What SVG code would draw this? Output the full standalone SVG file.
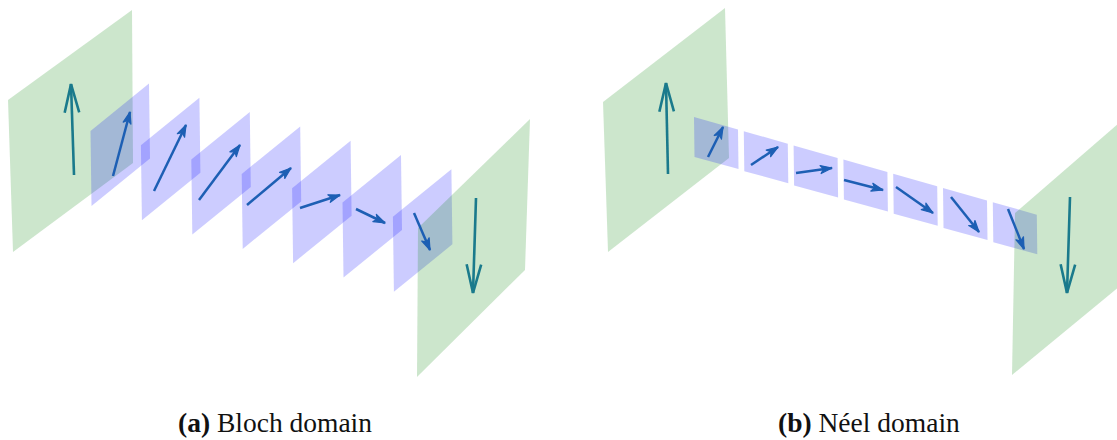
<svg xmlns="http://www.w3.org/2000/svg" width="1117" height="440" viewBox="0 0 1117 440">
  <style>
    .green { fill: #008000; fill-opacity: 0.2; }
    .blue { fill: #0000ff; fill-opacity: 0.2; }
    .spin-big { stroke: #1a7a8c; stroke-width: 2.6; fill: none; marker-end: url(#headBig); }
    .spin { stroke: #1d5fb4; stroke-width: 2.5; fill: none; marker-end: url(#headSmall); }
    .caption { font-family: "Liberation Serif", "DejaVu Serif", serif; font-size: 27.5px; fill: #111; }
    .caption .tag { font-weight: bold; }
  </style>
  <defs>
    <marker id="headBig" viewBox="-12 -4 13 8" refX="0" refY="0" markerWidth="13" markerHeight="8" markerUnits="strokeWidth" orient="auto" overflow="visible">
      <path d="M-11,-2.8 L0,0 L-11,2.8" fill="none" stroke="#1a7a8c" stroke-width="1" stroke-linejoin="miter"/>
    </marker>
    <marker id="headSmall" viewBox="-6 -3 7 6" refX="0" refY="0" markerWidth="7" markerHeight="6" markerUnits="strokeWidth" orient="auto" overflow="visible">
      <path d="M-4.6,-1.6 L0,0 L-4.6,1.6 L-3.4,0 Z" fill="#1d5fb4" stroke="#1d5fb4" stroke-width="0.5" stroke-linejoin="round"/>
    </marker>
    <!-- one tilted wall of the Bloch wall stack -->
    <polygon id="blochPlane" points="0,0 58.5,-47.5 59.5,27.5 1,75"/>
    <!-- one slab of the Néel wall strip -->
    <polygon id="neelPlane" points="0,0 44,12.5 44.5,52 0.5,40"/>
  </defs>

  <!-- ===== (a) Bloch domain ===== -->
  <g id="bloch-domain-up">
    <polygon class="green" points="8,100 132,10 133,163 13,252"/>
  </g>
  <g id="bloch-wall">
    <use href="#blochPlane" class="blue" x="90.5" y="131"/>
    <use href="#blochPlane" class="blue" x="140.9" y="145.3"/>
    <use href="#blochPlane" class="blue" x="191.3" y="159.6"/>
    <use href="#blochPlane" class="blue" x="241.7" y="173.9"/>
    <use href="#blochPlane" class="blue" x="292.1" y="188.2"/>
    <use href="#blochPlane" class="blue" x="342.5" y="202.5"/>
    <use href="#blochPlane" class="blue" x="392.9" y="216.8"/>
  </g>
  <g id="bloch-domain-down">
    <polygon class="green" points="418,228 530,119 525,270 417,377"/>
  </g>
  <g id="bloch-spins">
    <line class="spin-big" x1="74" y1="175" x2="71" y2="84"/>
    <line class="spin" x1="113" y1="176" x2="130" y2="112"/>
    <line class="spin" x1="154" y1="191" x2="186" y2="125"/>
    <line class="spin" x1="199" y1="200" x2="240" y2="145"/>
    <line class="spin" x1="247" y1="205" x2="291" y2="168"/>
    <line class="spin" x1="300" y1="208" x2="340" y2="195"/>
    <line class="spin" x1="356" y1="209" x2="385" y2="223"/>
    <line class="spin" x1="414" y1="213" x2="430" y2="250"/>
    <line class="spin-big" x1="476" y1="198" x2="473" y2="293"/>
  </g>

  <!-- ===== (b) Néel domain ===== -->
  <g id="neel-domain-up">
    <polygon class="green" points="603,102 725,8 729,158 608,252"/>
  </g>
  <g id="neel-wall">
    <use href="#neelPlane" class="blue" x="694" y="117"/>
    <use href="#neelPlane" class="blue" x="743.8" y="131.2"/>
    <use href="#neelPlane" class="blue" x="793.6" y="145.4"/>
    <use href="#neelPlane" class="blue" x="843.4" y="159.6"/>
    <use href="#neelPlane" class="blue" x="893.2" y="173.8"/>
    <use href="#neelPlane" class="blue" x="943" y="188"/>
    <use href="#neelPlane" class="blue" x="992.8" y="202.2"/>
  </g>
  <g id="neel-domain-down">
    <polygon class="green" points="1015,213 1140,105 1137,272 1012,375"/>
  </g>
  <g id="neel-spins">
    <line class="spin-big" x1="668" y1="174" x2="666" y2="83"/>
    <line class="spin" x1="708" y1="157" x2="723" y2="127"/>
    <line class="spin" x1="751" y1="165" x2="778" y2="147"/>
    <line class="spin" x1="796" y1="173" x2="832" y2="168"/>
    <line class="spin" x1="844" y1="180" x2="883" y2="190"/>
    <line class="spin" x1="896" y1="187" x2="933" y2="213"/>
    <line class="spin" x1="951" y1="197" x2="979" y2="232"/>
    <line class="spin" x1="1008" y1="209" x2="1024" y2="249"/>
    <line class="spin-big" x1="1070" y1="197" x2="1067" y2="293"/>
  </g>

  <!-- captions -->
  <g id="caption-a">
    <text class="caption" x="178" y="432"><tspan class="tag">(a)</tspan> Bloch domain</text>
  </g>
  <g id="caption-b">
    <text class="caption" x="778" y="432"><tspan class="tag">(b)</tspan> Néel domain</text>
  </g>
</svg>
